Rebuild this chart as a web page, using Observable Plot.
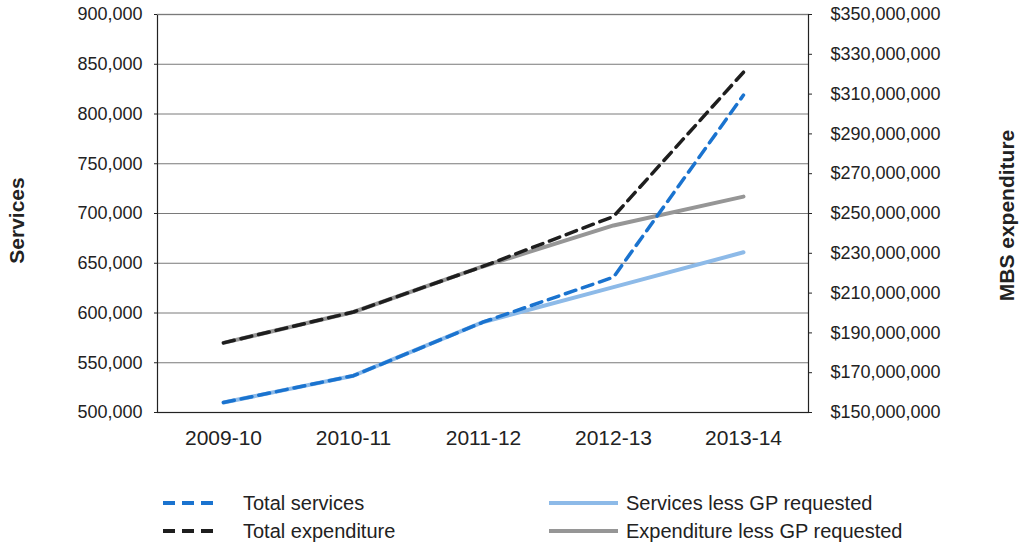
<!DOCTYPE html>
<html>
<head>
<meta charset="utf-8">
<script src="https://cdn.jsdelivr.net/npm/d3@7"></script>
<script src="https://cdn.jsdelivr.net/npm/@observablehq/plot@0.6"></script>
<style>
  html, body { margin: 0; padding: 0; background: #fff; }
  body { width: 1021px; height: 546px; overflow: hidden; font-family: "Liberation Sans", Arial, sans-serif; }
  #legend { position: relative; width: 1021px; height: 76px; }
  #legend .item { position: absolute; display: flex; align-items: center; height: 28px; }
  #legend .lbl { font-size: 20px; color: #222; white-space: nowrap; }
</style>
</head>
<body>
<div id="chart"></div>
<div id="legend"></div>
<script>
// ---- data ----
const years = ["2009-10", "2010-11", "2011-12", "2012-13", "2013-14"];
const totalServices = [510000, 537000, 591000, 636000, 819000];
const servicesLessGP = [510000, 537000, 591000, 626000, 661000];
const totalExpenditure = [185000000, 200500000, 223500000, 248500000, 321000000];
const expenditureLessGP = [185000000, 200500000, 223500000, 244000000, 258500000];

const servicesTicks = [500000, 550000, 600000, 650000, 700000, 750000, 800000, 850000, 900000];
const expenditureTicks = [150000000, 170000000, 190000000, 210000000, 230000000, 250000000,
  270000000, 290000000, 310000000, 330000000, 350000000];

const seriesNames = ["Total services", "Services less GP requested", "Total expenditure", "Expenditure less GP requested"];
const seriesColors = ["#1a73cf", "#8dbae8", "#1e1e1e", "#969696"];
const seriesDashed = [true, false, true, false];

// ---- dual axis mapping (expenditure -> services scale) ----
const expMin = expenditureTicks[0], expMax = expenditureTicks[expenditureTicks.length - 1];
const svcMin = servicesTicks[0], svcMax = servicesTicks[servicesTicks.length - 1];
const ratio = (expMax - expMin) / (svcMax - svcMin);
const toServ = e => svcMin + (e - expMin) / ratio;
const toExp = s => Math.round((expMin + (s - svcMin) * ratio) / 1e6) * 1e6;

const rows = years.map((year, i) => ({
  year,
  totalServices: totalServices[i],
  servicesLessGP: servicesLessGP[i],
  totalExpenditure: totalExpenditure[i],
  expenditureLessGP: expenditureLessGP[i]
}));

const fmt = d3.format(",");
const dash = "11,7";

const chart = Plot.plot({
  width: 1021,
  height: 470,
  marginLeft: 157,
  marginRight: 213,
  marginTop: 14,
  marginBottom: 58,
  x: { type: "point", domain: years, padding: 0.5 },
  y: { domain: [svcMin, svcMax] },
  style: { fontFamily: "'Liberation Sans', Arial, sans-serif", color: "#222", background: "#fff", overflow: "visible" },
  marks: [
    Plot.gridY(servicesTicks, { stroke: "#7a7a7a", strokeOpacity: 1, strokeWidth: 1 }),
    Plot.frame({ stroke: "#222", strokeWidth: 1.2 }),
    Plot.ruleY([svcMax], { stroke: "#7a7a7a", strokeWidth: 1 }),
    Plot.axisY({ anchor: "left", ticks: servicesTicks, tickSize: 3, tickPadding: 12, tickFormat: fmt, fontSize: 18, label: null, stroke: "#222" }),
    Plot.axisY({ anchor: "right", ticks: expenditureTicks.map(toServ), tickSize: 3, tickPadding: 19,
      tickFormat: v => "$" + fmt(toExp(v)), fontSize: 18, label: null, stroke: "#222" }),
    Plot.axisX({ tickSize: 0, tickPadding: 18, fontSize: 21, label: null }),
    Plot.text(["Services"], { text: d => d, frameAnchor: "left", textAnchor: "middle", lineAnchor: "middle", dx: -140, dy: 7, rotate: -90, fontSize: 21, fontWeight: "bold", fill: "#222" }),
    Plot.text(["MBS expenditure"], { text: d => d, frameAnchor: "right", textAnchor: "middle", lineAnchor: "middle", dx: 199, dy: 2, rotate: -90, fontSize: 21, fontWeight: "bold", fill: "#222" }),
    // solid series under dashed series
    Plot.line(rows, { x: "year", y: "servicesLessGP", stroke: seriesColors[1], strokeWidth: 4, strokeLinecap: "round" }),
    Plot.line(rows, { x: "year", y: d => toServ(d.expenditureLessGP), stroke: seriesColors[3], strokeWidth: 4, strokeLinecap: "round" }),
    Plot.line(rows, { x: "year", y: "totalServices", stroke: seriesColors[0], strokeWidth: 3.5, strokeDasharray: dash }),
    Plot.line(rows, { x: "year", y: d => toServ(d.totalExpenditure), stroke: seriesColors[2], strokeWidth: 3.5, strokeDasharray: dash })
  ]
});
document.getElementById("chart").appendChild(chart);

// ---- legend ----
const legend = document.getElementById("legend");
const legendPos = [[163, 19], [549, 19], [163, 47], [549, 47]]; // [x, top] per item
const sampleW = [50, 69, 50, 69];
const textGap = [30, 8, 30, 8];
seriesNames.forEach((name, i) => {
  const item = document.createElement("div");
  item.className = "item";
  item.style.left = legendPos[i][0] + "px";
  item.style.top = legendPos[i][1] + "px";
  const ns = "http://www.w3.org/2000/svg";
  const svg = document.createElementNS(ns, "svg");
  svg.setAttribute("width", sampleW[i]);
  svg.setAttribute("height", 10);
  svg.style.display = "block";
  const line = document.createElementNS(ns, "line");
  line.setAttribute("x1", 0); line.setAttribute("x2", sampleW[i]);
  line.setAttribute("y1", 5); line.setAttribute("y2", 5);
  line.setAttribute("stroke", seriesColors[i]);
  line.setAttribute("stroke-width", 4);
  if (seriesDashed[i]) line.setAttribute("stroke-dasharray", "12,7");
  svg.appendChild(line);
  const lbl = document.createElement("span");
  lbl.className = "lbl";
  lbl.style.marginLeft = textGap[i] + "px";
  lbl.textContent = name;
  item.appendChild(svg);
  item.appendChild(lbl);
  legend.appendChild(item);
});
</script>
</body>
</html>
